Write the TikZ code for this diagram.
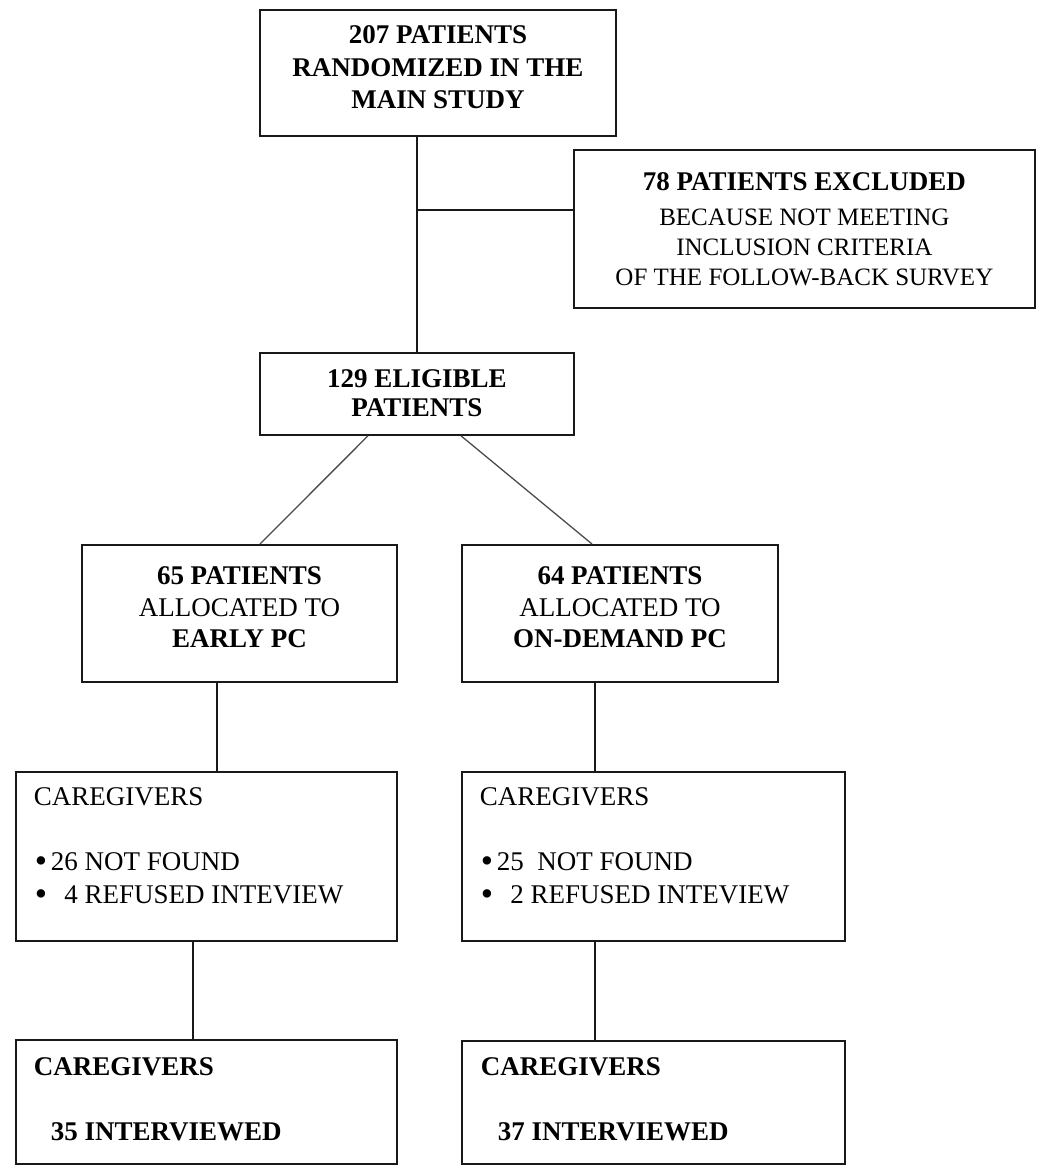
\documentclass[tikz,border=0pt]{standalone}
\usepackage{fontspec}
\setmainfont{Liberation Serif}
\newdimen\fcW
\newcommand{\fcBox}[3]{\fcW=#1pt\relax\vbox to #2pt{\offinterlineskip #3\vfil}}
\newcommand{\fcCen}[2]{\kern#1pt\hbox to\fcW{\hfil\smash{#2}\hfil}}
\newcommand{\fcLeft}[3]{\kern#1pt\hbox to\fcW{\hskip#2pt\smash{#3}\hfil}}
\newcommand{\fcSmall}{\fontsize{25pt}{30pt}\selectfont}
\newcommand{\fcBul}{\hbox to 16pt{\raisebox{-1.5pt}{\scalebox{1.3}{•}}\hfil}}
\tikzset{
  fbox/.style={draw=black!90, line width=1.8pt, inner sep=0pt, anchor=north west,
               font=\fontsize{27pt}{32pt}\selectfont},
  conn/.style={draw=black!90, line width=1.5pt},
  diag/.style={draw=black!70, line width=1.3pt}
}
\begin{document}
\begin{tikzpicture}[x=1pt,y=-1pt]
\useasboundingbox (0,0) rectangle (1038,1167);

\node[fbox] (top) at (259,9) {\fcBox{356}{126}{%
  \fcCen{34}{\bfseries 207 PATIENTS}%
  \fcCen{32.5}{\bfseries RANDOMIZED IN THE}%
  \fcCen{32.5}{\bfseries MAIN STUDY}}};

\node[fbox] (excl) at (573,149) {\fcBox{461}{158}{%
  \fcCen{41}{\bfseries 78 PATIENTS EXCLUDED}%
  \fcCen{34.5}{\fcSmall BECAUSE NOT MEETING}%
  \fcCen{30}{\fcSmall INCLUSION CRITERIA}%
  \fcCen{30}{\fcSmall OF THE FOLLOW-BACK SURVEY}}};

\node[fbox] (elig) at (259,352) {\fcBox{314}{82}{%
  \fcCen{34.5}{\bfseries 129 ELIGIBLE}%
  \fcCen{29.5}{\bfseries PATIENTS}}};

\node[fbox] (early) at (81,544) {\fcBox{315}{137}{%
  \fcCen{40}{\bfseries 65 PATIENTS}%
  \fcCen{32}{ALLOCATED TO}%
  \fcCen{31}{\bfseries EARLY PC}}};

\node[fbox] (ondemand) at (461,544) {\fcBox{316}{137}{%
  \fcCen{40}{\bfseries 64 PATIENTS}%
  \fcCen{32}{ALLOCATED TO}%
  \fcCen{31}{\bfseries ON-DEMAND PC}}};

\node[fbox] (care1) at (15,771) {\fcBox{381}{169}{%
  \fcLeft{34}{18}{CAREGIVERS}%
  \fcLeft{65}{19}{\fcBul\hbox to 27pt{\hfil 26} NOT FOUND}%
  \fcLeft{33}{19}{\fcBul\hbox to 27pt{\hfil 4} REFUSED INTEVIEW}}};

\node[fbox] (care2) at (461,771) {\fcBox{383}{169}{%
  \fcLeft{34}{18}{CAREGIVERS}%
  \fcLeft{65}{19}{\fcBul\hbox to 27pt{\hfil 25}\ \ NOT FOUND}%
  \fcLeft{33}{19}{\fcBul\hbox to 27pt{\hfil 2} REFUSED INTEVIEW}}};

\node[fbox] (bot1) at (15,1039) {\fcBox{381}{124}{%
  \fcLeft{36}{18}{\bfseries CAREGIVERS}%
  \fcLeft{65}{35}{\bfseries 35 INTERVIEWED}}};

\node[fbox] (bot2) at (461,1040) {\fcBox{383}{123}{%
  \fcLeft{35}{19}{\bfseries CAREGIVERS}%
  \fcLeft{65}{36}{\bfseries 37 INTERVIEWED}}};

% connectors
\draw[conn] (elig.north) -- (elig.north |- top.south);
\coordinate (j) at (416,210);
\draw[conn] (j) -- (j -| excl.west);
\draw[diag] ([xshift=109pt]elig.south west) -- ([xshift=179pt]early.north west);
\draw[diag] ([xshift=202pt]elig.south west) -- ([xshift=131pt]ondemand.north west);
\draw[conn] (early.south west) ++(136,0) coordinate (a1) -- (a1 |- care1.north);
\draw[conn] (ondemand.south west) ++(134,0) coordinate (a2) -- (a2 |- care2.north);
\draw[conn] (care1.south west) ++(178,0) coordinate (a3) -- (a3 |- bot1.north);
\draw[conn] (care2.south west) ++(134,0) coordinate (a4) -- (a4 |- bot2.north);
\end{tikzpicture}
\end{document}
